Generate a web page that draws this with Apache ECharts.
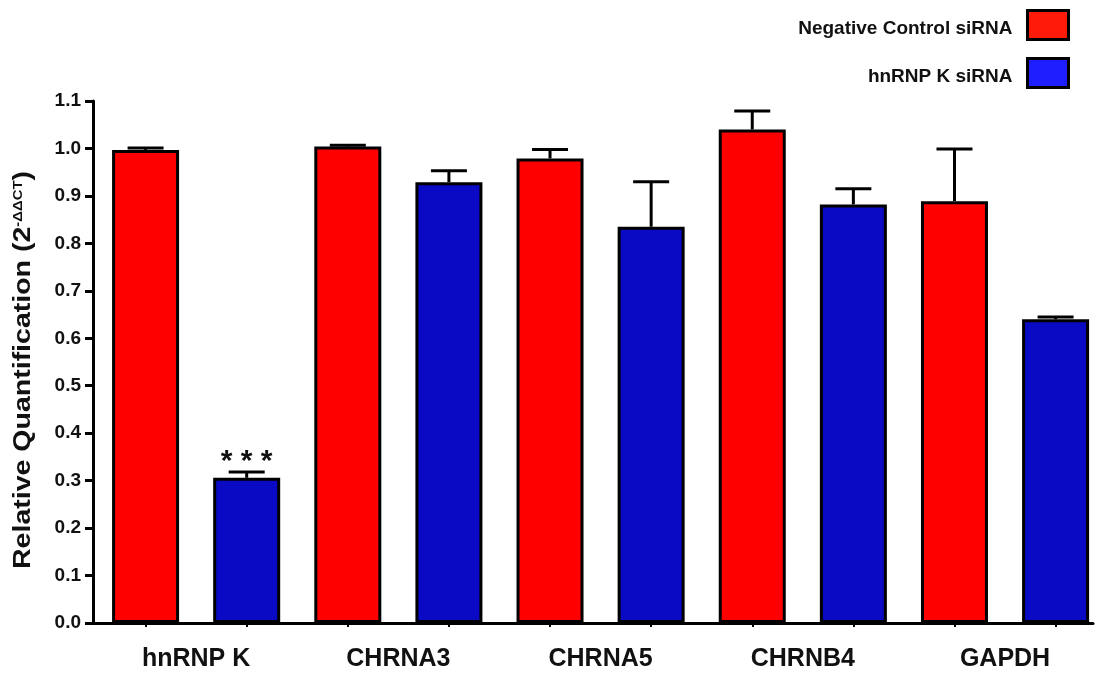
<!DOCTYPE html>
<html>
<head>
<meta charset="utf-8">
<style>
  html, body { margin: 0; padding: 0; background: #ffffff; }
  #chart { width: 1097px; height: 675px; }
</style>
<script src="https://cdn.jsdelivr.net/npm/echarts@6/dist/echarts.min.js"></script>
</head>
<body>
<div id="chart"></div>
<script>
// Genes measured by qPCR
const categories = ['hnRNP K', 'CHRNA3', 'CHRNA5', 'CHRNB4', 'GAPDH'];
// Relative quantification (2^-ΔΔCT), mean and upper error (SEM)
const controlMeans = [0.997, 1.004, 0.979, 1.040, 0.889];
const controlErr = [0.004, 0.003, 0.019, 0.039, 0.110];
const knockdownMeans = [0.306, 0.929, 0.835, 0.882, 0.640];
const knockdownErr = [0.012, 0.024, 0.095, 0.033, 0.005];
// Significance markers per gene (knockdown vs control)
const significance = ['* * *', '', '', '', ''];
const yTickLabels = ['0.0', '0.1', '0.2', '0.3', '0.4', '0.5', '0.6', '0.7', '0.8', '0.9', '1.0', '1.1'];

const seriesNames = ['Negative Control siRNA', 'hnRNP K siRNA'];
const RED = '#ff0000';
const BLUE = '#0a0ac4';
const FONT = 'Liberation Sans, Arial, sans-serif';

// Each gene takes two slots on the x scale: control at 2i, knockdown at 2i+1
const pos = (i, s) => i * 2 + s;

const controlData = controlMeans.map((v, i) => [pos(i, 0), v]);
const knockdownData = knockdownMeans.map((v, i) => ({
  value: [pos(i, 1), v],
  label: significance[i] ? { show: true, formatter: significance[i] } : { show: false }
}));
const errData = [];
controlMeans.forEach((v, i) => errData.push([pos(i, 0), v, controlErr[i]]));
knockdownMeans.forEach((v, i) => errData.push([pos(i, 1), v, knockdownErr[i]]));

const tickValues = [];
categories.forEach((c, i) => { tickValues.push(pos(i, 0), pos(i, 1)); });
const labelValues = categories.map((c, i) => pos(i, 0.5));

const chart = echarts.init(document.getElementById('chart'));

chart.setOption({
  backgroundColor: '#ffffff',
  animation: false,
  textStyle: { fontFamily: FONT },
  grid: { left: 93, top: 101, width: 1000, height: 522, containLabel: false },
  legend: {
    orient: 'vertical',
    right: 22,
    top: 4,
    align: 'right',
    itemWidth: 41,
    itemHeight: 29,
    itemGap: 16,
    icon: 'rect',
    formatter: '{t|{name}}',
    textStyle: {
      fontSize: 19, fontWeight: 'bold', color: '#111', fontFamily: FONT,
      rich: { t: { fontSize: 19, fontWeight: 'bold', color: '#111', fontFamily: FONT, padding: [8, 10, 0, 0] } }
    },
    data: [
      { name: seriesNames[0], itemStyle: { color: '#ff1a0a', borderColor: '#000', borderWidth: 3 } },
      { name: seriesNames[1], itemStyle: { color: '#1e1eff', borderColor: '#000', borderWidth: 3 } }
    ]
  },
  xAxis: {
    type: 'value',
    min: -0.52,
    max: 9.37,
    splitLine: { show: false },
    axisLine: { show: true, onZero: false, lineStyle: { color: '#000', width: 3 } },
    axisTick: { show: true, length: 4, inside: false, customValues: tickValues, lineStyle: { color: '#000', width: 2 } },
    axisLabel: {
      customValues: labelValues,
      margin: 24,
      fontSize: 25,
      fontWeight: 'bold',
      color: '#111',
      formatter: (v) => categories[Math.round((v - 0.5) / 2)] || ''
    }
  },
  yAxis: {
    type: 'value',
    min: 0,
    max: 1.1,
    interval: 0.1,
    splitLine: { show: false },
    axisLine: { show: true, onZero: false, lineStyle: { color: '#000', width: 3 } },
    axisTick: { show: true, length: 8, lineStyle: { color: '#000', width: 3 } },
    axisLabel: {
      margin: 12,
      fontSize: 19,
      fontWeight: 'bold',
      color: '#111',
      formatter: (v) => yTickLabels[Math.round(v * 10)]
    }
  },
  graphic: [{
    type: 'text',
    x: 24,
    y: 370,
    rotation: Math.PI / 2,
    scaleX: 1.24,
    style: {
      text: '{m|Relative Quantification (2}{s|-ΔΔCT}{m|)}',
      align: 'center',
      verticalAlign: 'middle',
      fill: '#111',
      rich: {
        m: { fontSize: 23, fontWeight: 'bold', fill: '#111', fontFamily: FONT },
        s: { fontSize: 12, fontWeight: 'bold', fill: '#111', verticalAlign: 'top', padding: [0, 0, 10, 0], fontFamily: FONT }
      }
    }
  }],
  series: [
    {
      name: seriesNames[0],
      type: 'bar',
      data: controlData,
      barWidth: 67,
      barGap: '-100%',
      itemStyle: { color: RED, borderColor: '#000', borderWidth: 3 },
      z: 2
    },
    {
      name: seriesNames[1],
      type: 'bar',
      data: knockdownData,
      barWidth: 67,
      barGap: '-100%',
      itemStyle: { color: BLUE, borderColor: '#000', borderWidth: 3 },
      label: {
        position: 'top',
        distance: 1,
        fontSize: 30,
        fontWeight: 'bold',
        color: '#111',
        fontFamily: FONT
      },
      z: 2
    },
    {
      name: 'error',
      type: 'custom',
      data: errData,
      z: 3,
      silent: true,
      clip: false,
      encode: { x: 0, y: 1 },
      renderItem: (params, api) => {
        const x = api.value(0);
        const mean = api.value(1);
        const err = api.value(2);
        const base = api.coord([x, mean]);
        const top = api.coord([x, mean + err]);
        const half = 18;
        return {
          type: 'group',
          children: [
            {
              type: 'line',
              shape: { x1: base[0], y1: base[1], x2: top[0], y2: top[1] },
              style: { stroke: '#000', lineWidth: 3 }
            },
            {
              type: 'line',
              shape: { x1: top[0] - half, y1: top[1], x2: top[0] + half, y2: top[1] },
              style: { stroke: '#000', lineWidth: 3 }
            }
          ]
        };
      }
    }
  ]
});
</script>
</body>
</html>
